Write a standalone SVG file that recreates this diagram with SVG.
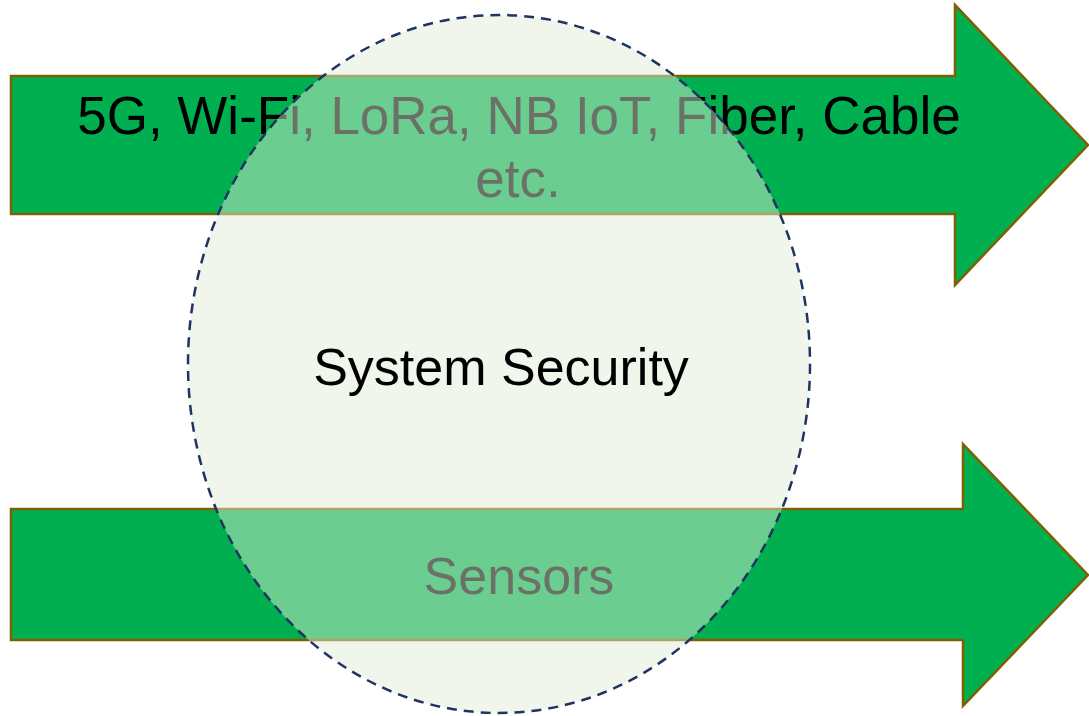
<svg xmlns="http://www.w3.org/2000/svg" width="1089" height="716" viewBox="0 0 1089 716">
  <style>
    .arrow { fill: #00B050; stroke: #7F6000; stroke-width: 2.5; stroke-linejoin: miter; }
    .lbl { font-family: "Liberation Sans", Arial, sans-serif; font-size: 52px; fill: #000000; text-anchor: middle; }
    .big { font-size: 53px; }
    .zone { fill: #E0ECD7; fill-opacity: 0.48; stroke: #1F3461; stroke-width: 2.5; stroke-dasharray: 10 7; }
  </style>
  <rect width="1089" height="716" fill="#FFFFFF"/>
  <g id="connectors"></g>
  <g id="network">
    <polygon class="arrow" points="11,76 955,76 955,5 1088,145 955,285 955,214 11,214"/>
    <text class="lbl big" x="519" y="134">5G, Wi-Fi, LoRa, NB IoT, Fiber, Cable</text>
    <text class="lbl big" x="518" y="197">etc.</text>
  </g>
  <g id="sensors">
    <polygon class="arrow" points="11,509 963,509 963,444 1088,575 963,706 963,640 11,640"/>
    <text class="lbl" x="519" y="594">Sensors</text>
  </g>
  <g id="system-security">
    <ellipse class="zone" cx="499" cy="364" rx="311" ry="349"/>
    <text class="lbl" x="501" y="385">System Security</text>
  </g>
</svg>
